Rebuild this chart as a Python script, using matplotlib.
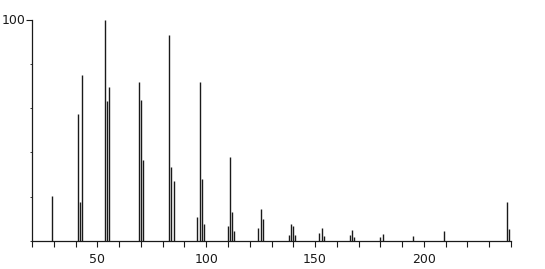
import matplotlib
matplotlib.use("Agg")
from matplotlib import pyplot as plt
from matplotlib.ticker import MultipleLocator

# m/z positions and relative intensities
mz = [29, 41, 42, 43, 53.5, 54.5, 55.5, 69, 70, 71, 83, 84, 85,
      96, 97, 98, 99, 110, 111, 112, 113, 124, 125, 126,
      138, 139, 140, 141, 152, 153, 154, 166, 167, 168,
      180, 181, 195, 209, 238, 239]
intensity = [20.4, 57.3, 17.5, 75, 100, 63.3, 69.5, 71.8, 63.8, 36.6, 93.2, 33.6, 27,
             11, 72, 28, 7.6, 6.8, 38, 13, 4.6, 6, 14.5, 10,
             2.6, 7.8, 6.8, 2.9, 3.8, 6, 2.1, 2.6, 5, 1.7,
             1.7, 3, 2.4, 4.4, 17.5, 5.4]

x_labels = [50, 100, 150, 200]

ink = "#1a1a1a"

fig = plt.figure(figsize=(5.45, 2.69), dpi=100)
ax = fig.add_axes([32 / 545, 1 - 241 / 269, (511 - 32) / 545, (241 - 19.5) / 269])

ax.vlines(mz, 0, intensity, colors=ink, linewidth=1.0)

ax.set_xlim(20, 240)
ax.set_ylim(0, 100)

for side in ["top", "right"]:
    ax.spines[side].set_visible(False)
for side in ["left", "bottom"]:
    ax.spines[side].set_color(ink)
    ax.spines[side].set_linewidth(0.9)

ax.set_xticks(x_labels)
ax.set_xticklabels([str(v) for v in x_labels])
ax.xaxis.set_minor_locator(MultipleLocator(10))
ax.tick_params(axis="x", which="both", direction="out", length=4.5, width=0.8,
               color=ink, labelsize=9, pad=4, labelcolor=ink)

ax.set_yticks([100])
ax.set_yticklabels(["100"])
ax.yaxis.set_minor_locator(MultipleLocator(20))
ax.tick_params(axis="y", which="major", direction="out", length=4, width=0.8,
               color=ink, labelsize=9, pad=1, labelcolor=ink)
ax.tick_params(axis="y", which="minor", direction="out", length=1.5, width=0.6, color=ink)

fig.savefig("out.png", dpi=100)
